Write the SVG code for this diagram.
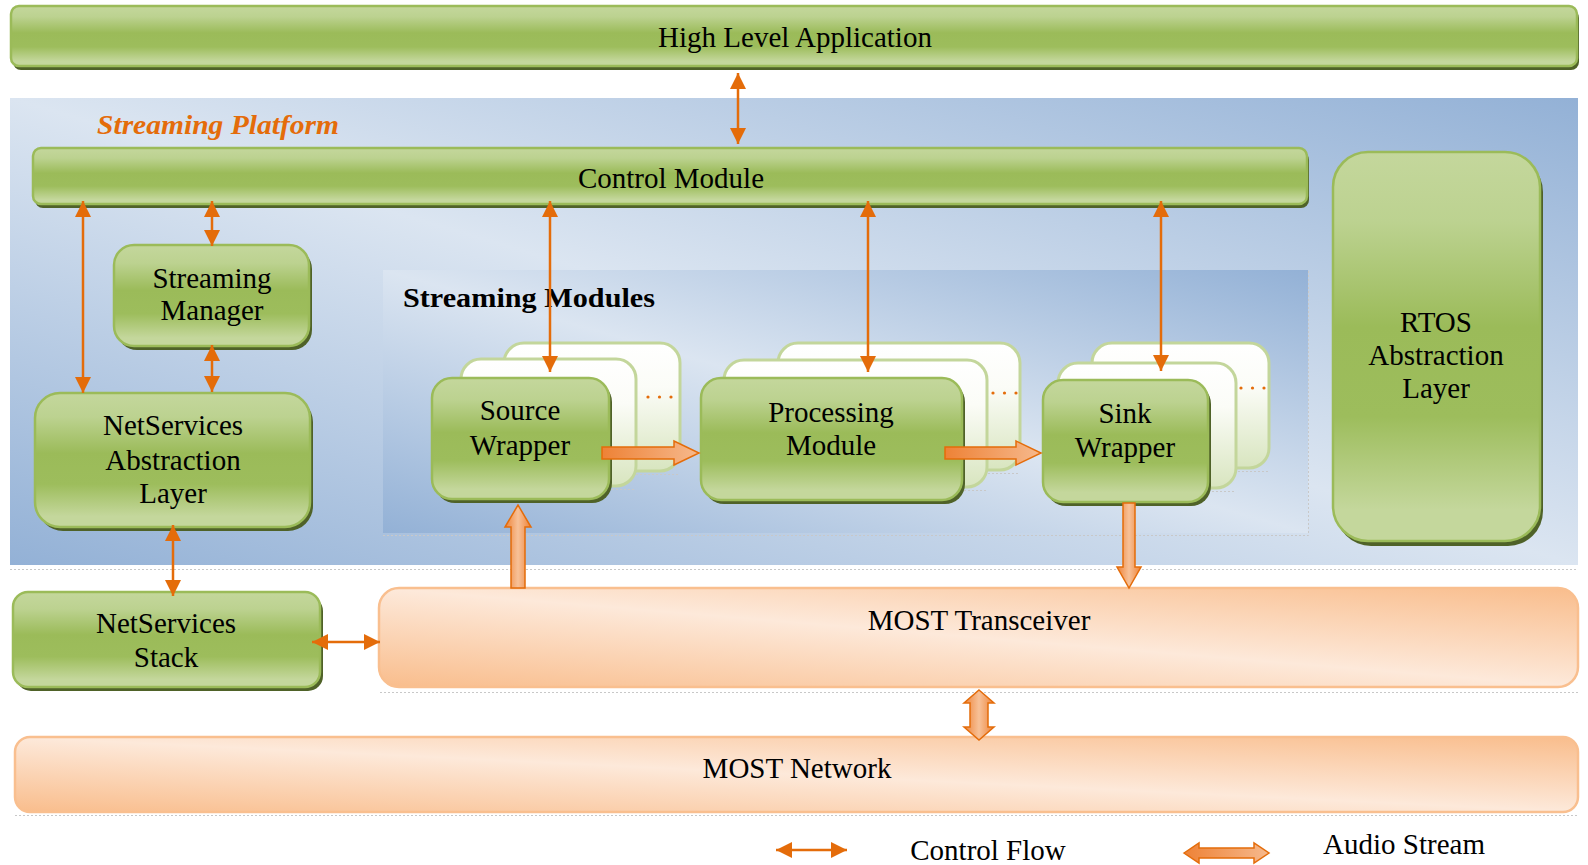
<svg xmlns="http://www.w3.org/2000/svg" width="1588" height="865" viewBox="0 0 1588 865">
<defs>
  <linearGradient id="gGreen" x1="0" y1="0" x2="0" y2="1">
    <stop offset="0" stop-color="#c4d79c"/>
    <stop offset="0.18" stop-color="#bcd290"/>
    <stop offset="0.45" stop-color="#9bbb59"/>
    <stop offset="0.68" stop-color="#9dbd5c"/>
    <stop offset="0.92" stop-color="#c4d79c"/>
    <stop offset="1" stop-color="#c4d79c"/>
  </linearGradient>
  <linearGradient id="gCard" x1="0" y1="0" x2="0" y2="1">
    <stop offset="0" stop-color="#ffffff"/>
    <stop offset="0.35" stop-color="#fbfcf7"/>
    <stop offset="1" stop-color="#d8e5bf"/>
  </linearGradient>
  <linearGradient id="gBlue" x1="0" y1="1" x2="1" y2="0">
    <stop offset="0" stop-color="#93b1d6"/>
    <stop offset="0.5" stop-color="#dbe5f1"/>
    <stop offset="1" stop-color="#93b1d6"/>
  </linearGradient>
  <linearGradient id="gPeach" x1="0" y1="1" x2="1" y2="0">
    <stop offset="0" stop-color="#f9bd8c"/>
    <stop offset="0.5" stop-color="#fde9da"/>
    <stop offset="1" stop-color="#f9bd8c"/>
  </linearGradient>
  <linearGradient id="gBlkH" x1="0" y1="0" x2="1" y2="0">
    <stop offset="0" stop-color="#ee8236"/>
    <stop offset="1" stop-color="#f6b98d"/>
  </linearGradient>
  <linearGradient id="gBlkV" x1="0" y1="0" x2="1" y2="0">
    <stop offset="0" stop-color="#ee8236"/>
    <stop offset="0.5" stop-color="#f7c198"/>
    <stop offset="1" stop-color="#ee8236"/>
  </linearGradient>
  <marker id="ah" viewBox="0 0 16 16" refX="16" refY="8" markerWidth="16" markerHeight="16" markerUnits="userSpaceOnUse" orient="auto-start-reverse">
    <path d="M0,0 L16,8 L0,16 z" fill="#e46c0a"/>
  </marker>
</defs>
<style>
  .lbl{font-family:"Liberation Serif","Times New Roman",serif;font-size:29px;fill:#000;text-anchor:middle}
  .gn{fill:url(#gGreen);stroke:#9bbb59;stroke-width:2.5}
  .sh{fill:#4f6228}
  .card{fill:url(#gCard);stroke:#c3d69b;stroke-width:3}
  .pe{fill:url(#gPeach);stroke:#f9bf8f;stroke-width:2.5}
  .ctl{stroke:#e46c0a;stroke-width:2.5;fill:none;marker-start:url(#ah);marker-end:url(#ah)}
  .blkh{fill:url(#gBlkH);stroke:#e46c0a;stroke-width:1.5}
  .blkv{fill:url(#gBlkV);stroke:#e46c0a;stroke-width:1.5}
  .dotl{stroke:#c8c8c8;stroke-width:1;stroke-dasharray:2 2;fill:none}
  .odot{fill:#e46c0a}
</style>
<rect x="0" y="0" width="1588" height="865" fill="#ffffff"/>

<!-- backgrounds -->
<g id="streaming-platform">
  <rect x="10" y="98" width="1568" height="467" fill="url(#gBlue)"/>
  <path class="dotl" d="M10,569.5 H1578"/>
  <text x="97" y="134" font-family="Liberation Serif, serif" font-size="28" font-weight="bold" font-style="italic" fill="#e46c0a" textLength="242" lengthAdjust="spacingAndGlyphs">Streaming Platform</text>
</g>
<g id="streaming-modules">
  <rect x="383" y="270" width="925" height="263" fill="url(#gBlue)"/>
  <path class="dotl" d="M383,535.5 H1308.5 V270"/>
  <text x="403" y="307" font-family="Liberation Serif, serif" font-size="28" font-weight="bold" fill="#000" textLength="252" lengthAdjust="spacingAndGlyphs">Streaming Modules</text>
</g>

<g id="high-level-application">
  <rect class="sh" x="13" y="10" width="1566" height="60" rx="8"/>
  <rect class="gn" x="11" y="6" width="1566" height="60" rx="8"/>
  <text class="lbl" x="795" y="47">High Level Application</text>
</g>
<g id="control-module">
  <rect class="sh" x="35" y="152" width="1274" height="56" rx="8"/>
  <rect class="gn" x="33" y="148" width="1274" height="56" rx="8"/>
  <text class="lbl" x="671" y="188">Control Module</text>
</g>
<g id="rtos-abstraction-layer">
  <rect class="sh" x="1336" y="157" width="207" height="389" rx="35"/>
  <rect class="gn" x="1333" y="152" width="207" height="389" rx="35"/>
  <text class="lbl" x="1436" y="332">RTOS</text>
  <text class="lbl" x="1436" y="365">Abstraction</text>
  <text class="lbl" x="1436" y="398">Layer</text>
</g>
<g id="streaming-manager">
  <rect class="sh" x="117" y="249" width="195" height="101" rx="20"/>
  <rect class="gn" x="114" y="245" width="195" height="101" rx="20"/>
  <text class="lbl" x="212" y="288">Streaming</text>
  <text class="lbl" x="212" y="320">Manager</text>
</g>
<g id="netservices-abstraction-layer">
  <rect class="sh" x="38" y="397" width="275" height="134" rx="25"/>
  <rect class="gn" x="35" y="393" width="275" height="134" rx="25"/>
  <text class="lbl" x="173" y="435">NetServices</text>
  <text class="lbl" x="173" y="470">Abstraction</text>
  <text class="lbl" x="173" y="503">Layer</text>
</g>
<g id="netservices-stack">
  <rect class="sh" x="16" y="596" width="307" height="95" rx="15"/>
  <rect class="gn" x="13" y="592" width="307" height="95" rx="15"/>
  <text class="lbl" x="166" y="633">NetServices</text>
  <text class="lbl" x="166" y="667">Stack</text>
</g>

<g id="source-wrapper">
  <rect class="card" x="504" y="343" width="176" height="128" rx="20"/>
  <path class="dotl" d="M600,474.5 H680"/>
  <rect class="card" x="461" y="359" width="175" height="127" rx="20"/>
  <path class="dotl" d="M560,489.5 H636"/>
  <circle class="odot" cx="648" cy="397" r="1.6"/><circle class="odot" cx="659.5" cy="397" r="1.6"/><circle class="odot" cx="671" cy="397" r="1.6"/>
  <rect class="sh" x="435" y="382" width="177" height="121" rx="20"/>
  <rect class="gn" x="432" y="378" width="177" height="121" rx="20"/>
  <text class="lbl" x="520" y="420">Source</text>
  <text class="lbl" x="520" y="455">Wrapper</text>
</g>
<g id="processing-module">
  <rect class="card" x="778" y="343" width="242" height="127" rx="20"/>
  <path class="dotl" d="M940,473.5 H1020"/>
  <rect class="card" x="724" y="360" width="263" height="127" rx="20"/>
  <path class="dotl" d="M900,490.5 H987"/>
  <circle class="odot" cx="993" cy="393" r="1.6"/><circle class="odot" cx="1004.5" cy="393" r="1.6"/><circle class="odot" cx="1016" cy="393" r="1.6"/>
  <rect class="sh" x="704" y="382" width="261" height="122" rx="20"/>
  <rect class="gn" x="701" y="378" width="261" height="122" rx="20"/>
  <text class="lbl" x="831" y="422">Processing</text>
  <text class="lbl" x="831" y="455">Module</text>
</g>
<g id="sink-wrapper">
  <rect class="card" x="1092" y="343" width="177" height="125" rx="20"/>
  <path class="dotl" d="M1190,471.5 H1269"/>
  <rect class="card" x="1058" y="363" width="178" height="125" rx="20"/>
  <path class="dotl" d="M1160,491.5 H1236"/>
  <circle class="odot" cx="1241" cy="388" r="1.6"/><circle class="odot" cx="1252.5" cy="388" r="1.6"/><circle class="odot" cx="1264" cy="388" r="1.6"/>
  <rect class="sh" x="1046" y="384" width="165" height="122" rx="20"/>
  <rect class="gn" x="1043" y="380" width="165" height="122" rx="20"/>
  <text class="lbl" x="1125" y="423">Sink</text>
  <text class="lbl" x="1125" y="457">Wrapper</text>
</g>

<g id="most-transceiver">
  <rect class="pe" x="379" y="588" width="1199" height="99" rx="20"/>
  <path class="dotl" d="M380,692.5 H1578"/>
  <text class="lbl" x="979" y="630">MOST Transceiver</text>
</g>
<g id="most-network">
  <rect class="pe" x="15" y="737" width="1563" height="75" rx="15"/>
  <path class="dotl" d="M15,815.5 H1578"/>
  <text class="lbl" x="797" y="778">MOST Network</text>
</g>

<g id="connectors">
  <path class="ctl" d="M738,73 V144"/>
  <path class="ctl" d="M83,201 V393"/>
  <path class="ctl" d="M212,201 V246"/>
  <path class="ctl" d="M212,345 V392"/>
  <path class="ctl" d="M550,201 V372"/>
  <path class="ctl" d="M868,201 V372"/>
  <path class="ctl" d="M1161,201 V371"/>
  <path class="ctl" d="M173,525 V596"/>
  <path class="ctl" d="M312,642 H380"/>
  <path class="blkh" d="M602,447 L674,447 L674,441 L699,453 L674,465 L674,459 L602,459 Z"/>
  <path class="blkh" d="M945,447 L1016,447 L1016,441 L1041,453 L1016,465 L1016,459 L945,459 Z"/>
  <path class="blkv" d="M511,588 L511,527 L505,527 L518,505 L531,527 L525,527 L525,588 Z"/>
  <path class="blkv" d="M1123,503 L1135,503 L1135,567 L1141,567 L1129,588 L1117,567 L1123,567 Z"/>
  <path class="blkv" d="M979,690 L994,703 L988,703 L988,727 L994,727 L979,740 L964,727 L970,727 L970,703 L964,703 Z"/>
</g>

<g id="legend">
  <path class="ctl" d="M776,850 H847"/>
  <text class="lbl" x="988" y="860">Control Flow</text>
  <path class="blkh" d="M1184,853 L1199,843 L1199,848 L1254,848 L1254,843 L1269,853 L1254,863 L1254,858 L1199,858 L1199,863 Z"/>
  <text class="lbl" x="1404" y="854">Audio Stream</text>
</g>
</svg>
